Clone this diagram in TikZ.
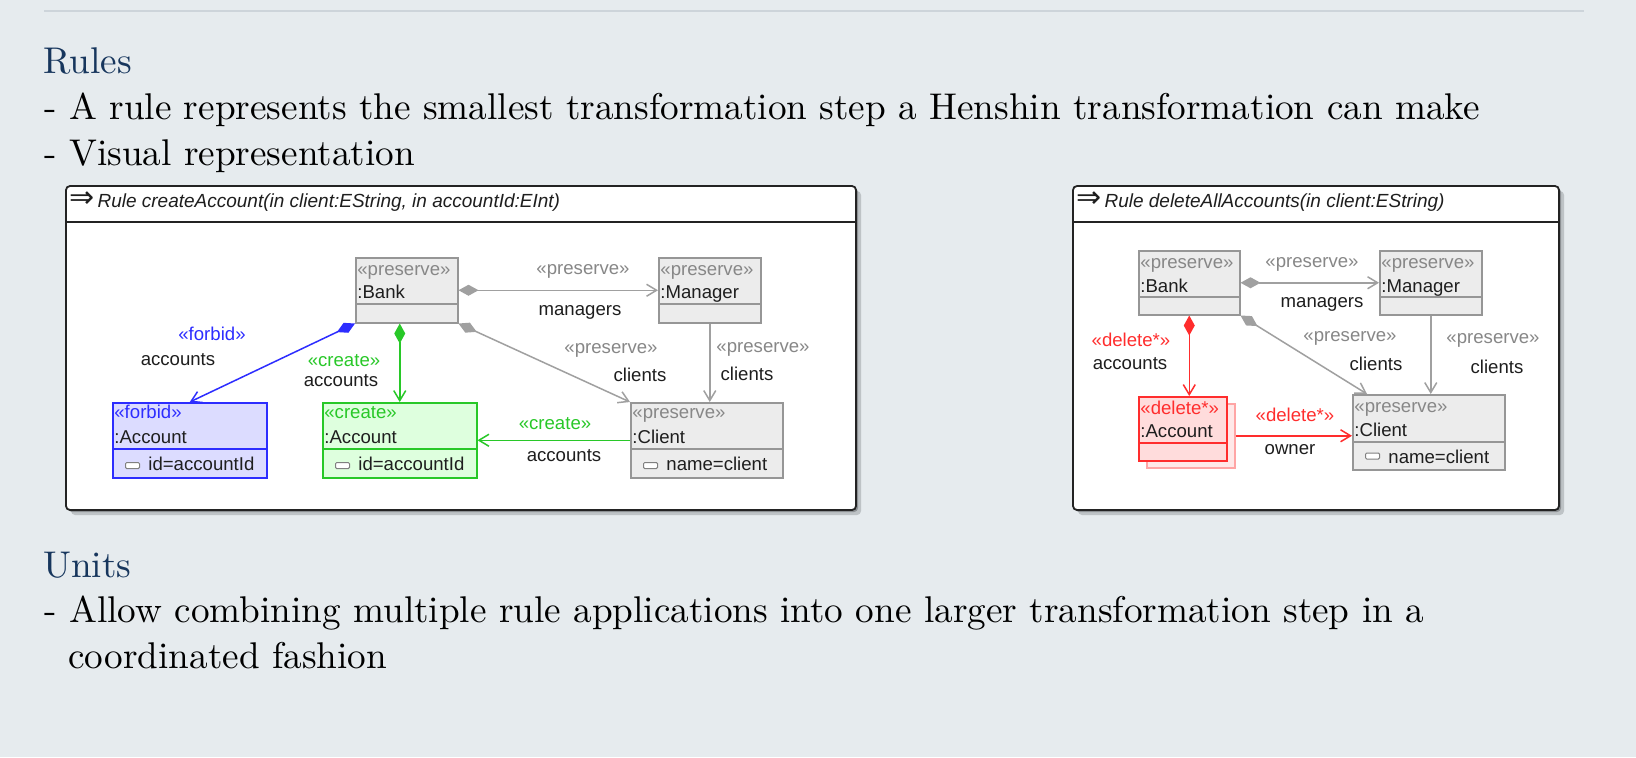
\documentclass[tikz,border=0pt]{standalone}
\usepackage{fontspec}
\usetikzlibrary{arrows.meta}
\newfontfamily\slidefont{lmroman10-regular.otf}
\newfontfamily\umlfont{Liberation Sans}
\newfontfamily\symfont{DejaVu Sans}
\definecolor{slidebg}{RGB}{230,235,238}
\definecolor{toprule}{RGB}{205,212,218}
\definecolor{headblue}{RGB}{23,54,93}
\definecolor{panelline}{RGB}{35,35,35}
\definecolor{shadowdark}{RGB}{140,144,147}
\definecolor{shadowlight}{RGB}{190,195,198}
\definecolor{pgray}{RGB}{150,150,150}
\definecolor{pfill}{RGB}{236,236,236}
\definecolor{ptext}{RGB}{135,135,135}
\definecolor{pline}{RGB}{160,160,160}
\definecolor{fblue}{RGB}{45,45,255}
\definecolor{ffill}{RGB}{220,220,255}
\definecolor{cgreen}{RGB}{40,200,40}
\definecolor{cfill}{RGB}{222,255,222}
\definecolor{dred}{RGB}{255,45,45}
\definecolor{dfill}{RGB}{255,220,220}
\definecolor{dredlight}{RGB}{255,165,165}
\definecolor{dfilllight}{RGB}{255,232,232}
\definecolor{nametext}{RGB}{30,30,30}
\begin{document}
\begin{tikzpicture}[x=0.5pt,y=-0.5pt,
  panel/.style={draw=panelline,fill=white,line width=0.9pt,rounded corners=2pt},
  box_node/.style={draw,line width=0.75pt,inner sep=0pt,anchor=north west},
  preserve_node/.style={box_node,draw=pgray,fill=pfill},
  forbid_node/.style={box_node,draw=fblue,fill=ffill},
  create_node/.style={box_node,draw=cgreen,fill=cfill},
  delete_node/.style={box_node,draw=dred,fill=dfill,line width=1pt},
  multi_node/.style={box_node,draw=dredlight,fill=dfilllight},
  uml_text/.style={font=\umlfont\fontsize{9.3}{11}\selectfont,text=nametext,inner sep=0pt,anchor=base west},
  title_text/.style={font=\umlfont\fontsize{9.5}{11}\selectfont,text=nametext,inner sep=0pt,anchor=base west},
  edge_label/.style={font=\umlfont\fontsize{9.3}{11}\selectfont,text=nametext,inner sep=0pt},
  attr_icon/.style={draw=gray,fill=white,line width=0.5pt,minimum width=7pt,minimum height=3pt,inner sep=0pt,rounded corners=0.6pt},
  slide_text/.style={font=\slidefont\fontsize{18.6}{22}\selectfont,inner sep=0pt,anchor=base west},
  preserve_edge/.style={draw=pline,line width=0.75pt},
  forbid_edge/.style={draw=fblue,line width=0.75pt},
  create_edge/.style={draw=cgreen,line width=0.75pt},
  delete_edge/.style={draw=dred,line width=0.75pt},
  with_diamond/.style={{Diamond[length=10pt,width=5.5pt]}-{Straight Barb[length=5pt,width=6pt]}},
  no_diamond/.style={-{Straight Barb[length=5pt,width=6pt]}}]

\useasboundingbox (0,0) rectangle (1636,757);
\fill[slidebg] (0,0) rectangle (1636,757);
\draw[toprule,line width=1pt] (44,11) -- (1584,11);

% slide text
\node[slide_text,text=headblue] (rulesHead) at (43,73) {Rules};
\node[slide_text] (ruleLine) at (44,119) {- A rule represents the smallest transformation step a Henshin transformation can make};
\node[slide_text] (visualLine) at (44,165) {- Visual representation};
\node[slide_text,text=headblue] (unitsHead) at (43,577) {Units};
\node[slide_text] (allowLine) at (44,622) {- Allow combining multiple rule applications into one larger transformation step in a};
\node[slide_text] (coordLine) at (68,668) {coordinated fashion};

% rule createAccount
\fill[shadowlight,rounded corners=2pt] (71,191) rectangle (861,515);
\fill[shadowdark,rounded corners=2pt] (68,188) rectangle (858,512);
\draw[panel] (66,186) rectangle (856,510);
\draw[panelline,line width=0.9pt] (66,222) -- (856,222);
\node[title_text] (titleA) at (69,207) {{\symfont\fontsize{15}{15}\selectfont ⇒}\hspace{1.5pt}\itshape Rule createAccount(in client:EString, in accountId:EInt)};

\node[preserve_node,minimum width=51pt,minimum height=32.5pt] (bankA) at (355,257) {};
\draw[pgray,line width=0.75pt] (355,304) -- (457,304);
\node[uml_text,text=ptext] (bankAst) at (357,275) {«preserve»};
\node[uml_text] (bankAnm) at (357,298) {:Bank};

\node[preserve_node,minimum width=51pt,minimum height=32.5pt] (mgrA) at (658,257) {};
\draw[pgray,line width=0.75pt] (658,304) -- (760,304);
\node[uml_text,text=ptext] (mgrAst) at (660,275) {«preserve»};
\node[uml_text] (mgrAnm) at (660,298) {:Manager};

\node[forbid_node,minimum width=77pt,minimum height=37.5pt] (faccA) at (112,402) {};
\draw[fblue,line width=0.75pt] (112,449) -- (266,449);
\node[uml_text,text=fblue] (faccAst) at (114,418) {«forbid»};
\node[uml_text] (faccAnm) at (114,443) {:Account};
\node[attr_icon] (faccAic) at (132.5,465.5) {};
\node[uml_text] (faccAat) at (148,470) {id=accountId};

\node[create_node,minimum width=77pt,minimum height=37.5pt] (caccA) at (322,402) {};
\draw[cgreen,line width=0.75pt] (322,449) -- (476,449);
\node[uml_text,text=cgreen] (caccAst) at (324,418) {«create»};
\node[uml_text] (caccAnm) at (324,443) {:Account};
\node[attr_icon] (caccAic) at (342.5,465.5) {};
\node[uml_text] (caccAat) at (358,470) {id=accountId};

\node[preserve_node,minimum width=76pt,minimum height=37.5pt] (clientA) at (630,402) {};
\draw[pgray,line width=0.75pt] (630,449) -- (782,449);
\node[uml_text,text=ptext] (clientAst) at (632,418) {«preserve»};
\node[uml_text] (clientAnm) at (632,443) {:Client};
\node[attr_icon] (clientAic) at (650.5,465.5) {};
\node[uml_text] (clientAat) at (666,470) {name=client};

\draw[preserve_edge,with_diamond] (bankA.east) -- (mgrA.west);
\draw[forbid_edge,with_diamond] (bankA.south west) -- (faccA.north);
\draw[create_edge,with_diamond] (caccA.north |- bankA.south) -- (caccA.north);
\draw[preserve_edge,with_diamond] (bankA.south east) -- (clientA.north west);
\draw[preserve_edge,no_diamond] (mgrA.south) -- (mgrA.south |- clientA.north);
\draw[create_edge,no_diamond] (clientA.west) -- (caccA.east);

\node[edge_label,text=ptext] (lblA1) at (583,271) {«preserve»};
\node[edge_label] (lblA2) at (580,312) {managers};
\node[edge_label,text=fblue] (lblA3) at (212,334) {«forbid»};
\node[edge_label] (lblA4) at (178,360) {accounts};
\node[edge_label,text=cgreen] (lblA5) at (344,361) {«create»};
\node[edge_label] (lblA6) at (341,381) {accounts};
\node[edge_label,text=ptext] (lblA7) at (611,350) {«preserve»};
\node[edge_label] (lblA8) at (640,375) {clients};
\node[edge_label,text=ptext] (lblA9) at (763,349) {«preserve»};
\node[edge_label] (lblA10) at (747,374) {clients};
\node[edge_label,text=cgreen] (lblA11) at (555,424) {«create»};
\node[edge_label] (lblA12) at (564,456) {accounts};

% rule deleteAllAccounts
\fill[shadowlight,rounded corners=2pt] (1078,191) rectangle (1564,515);
\fill[shadowdark,rounded corners=2pt] (1075,188) rectangle (1561,512);
\draw[panel] (1073,186) rectangle (1559,510);
\draw[panelline,line width=0.9pt] (1073,222) -- (1559,222);
\node[title_text] (titleB) at (1076,207) {{\symfont\fontsize{15}{15}\selectfont ⇒}\hspace{1.5pt}\itshape Rule deleteAllAccounts(in client:EString)};

\node[preserve_node,minimum width=50.5pt,minimum height=32pt] (bankB) at (1138,250) {};
\draw[pgray,line width=0.75pt] (1138,297) -- (1239,297);
\node[uml_text,text=ptext] (bankBst) at (1140,268) {«preserve»};
\node[uml_text] (bankBnm) at (1140,292) {:Bank};

\node[preserve_node,minimum width=51pt,minimum height=32pt] (mgrB) at (1379,250) {};
\draw[pgray,line width=0.75pt] (1379,297) -- (1481,297);
\node[uml_text,text=ptext] (mgrBst) at (1381,268) {«preserve»};
\node[uml_text] (mgrBnm) at (1381,292) {:Manager};

\node[multi_node,minimum width=44pt,minimum height=32pt] (daccBs) at (1146,403) {};
\node[delete_node,minimum width=44pt,minimum height=32pt] (daccB) at (1138,396) {};
\draw[dred,line width=1pt] (1138,443) -- (1226,443);
\node[uml_text,text=dred] (daccBst) at (1140,414) {«delete*»};
\node[uml_text] (daccBnm) at (1140,437) {:Account};

\node[preserve_node,minimum width=76pt,minimum height=37.5pt] (clientB) at (1352,394) {};
\draw[pgray,line width=0.75pt] (1352,442) -- (1504,442);
\node[uml_text,text=ptext] (clientBst) at (1354,412) {«preserve»};
\node[uml_text] (clientBnm) at (1354,436) {:Client};
\node[attr_icon] (clientBic) at (1372.5,456) {};
\node[uml_text] (clientBat) at (1388,463) {name=client};

\draw[preserve_edge,with_diamond] (bankB.east) -- (mgrB.west);
\draw[delete_edge,with_diamond] (bankB.south) -- (bankB.south |- daccB.north);
\draw[preserve_edge,with_diamond] (bankB.south east) -- ([xshift=7.5pt]clientB.north west);
\draw[preserve_edge,no_diamond] (mgrB.south) -- (mgrB.south |- clientB.north);
\draw[delete_edge,no_diamond] (daccBs.east) -- (daccBs.east -| clientB.west);

\node[edge_label,text=ptext] (lblB1) at (1312,264) {«preserve»};
\node[edge_label] (lblB2) at (1322,304) {managers};
\node[edge_label,text=dred] (lblB3) at (1131,340) {«delete*»};
\node[edge_label] (lblB4) at (1130,364) {accounts};
\node[edge_label,text=ptext] (lblB5) at (1350,338) {«preserve»};
\node[edge_label] (lblB6) at (1376,364) {clients};
\node[edge_label,text=ptext] (lblB7) at (1493,340) {«preserve»};
\node[edge_label] (lblB8) at (1497,367) {clients};
\node[edge_label,text=dred] (lblB9) at (1295,415) {«delete*»};
\node[edge_label] (lblB10) at (1290,450) {owner};
\end{tikzpicture}
\end{document}
